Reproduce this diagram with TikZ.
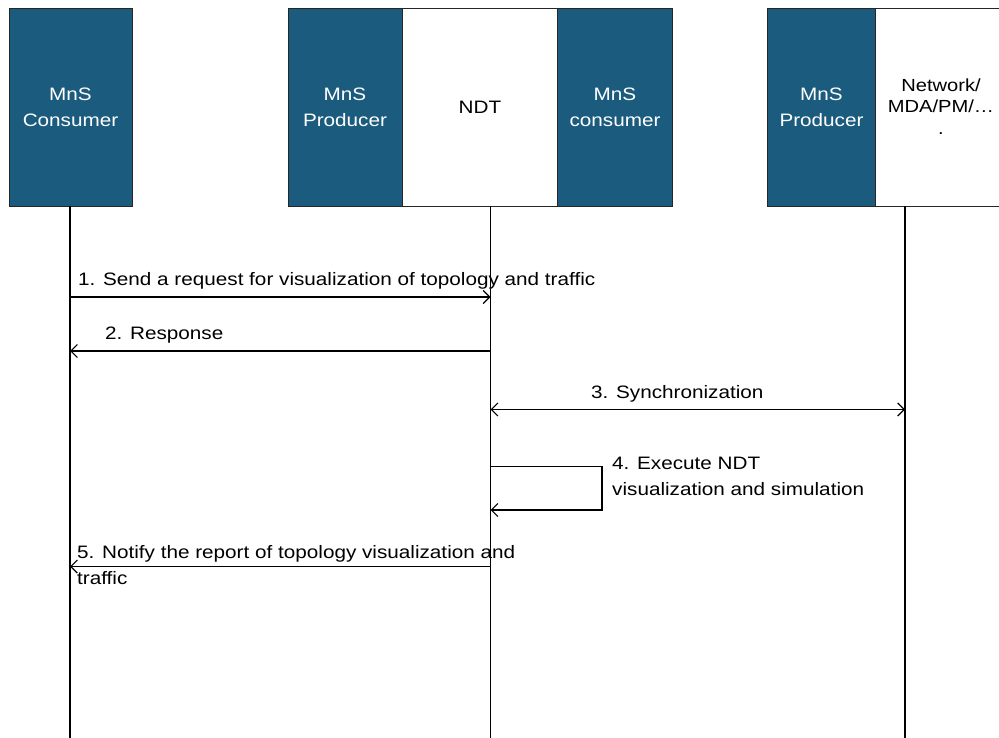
\documentclass[tikz,border=0pt]{standalone}
\usepackage{fontspec}
\setmainfont{Liberation Sans}[FakeStretch=1.15]
\usetikzlibrary{arrows.meta}
\definecolor{mnsblue}{HTML}{1B5C7E}
\begin{document}
\begin{tikzpicture}[x=1pt,y=-1pt,
  box/.style={draw=black!85,line width=1pt,minimum height=198pt,inner sep=0pt,align=center,
    font=\fontsize{18}{25.5}\selectfont},
  darkbox/.style={box,fill=mnsblue,text=white},
  lightbox/.style={box,fill=white,text=black},
  life/.style={line width=1.3pt,black},
  msg/.style={line width=1.2pt,black,-{Straight Barb[length=6.5pt,width=13pt]}},
  lbl/.style={font=\fontsize{18}{26}\selectfont,inner sep=0pt,align=left,anchor=west}]
\useasboundingbox (0,0) rectangle (999,738);
\clip (0,0) rectangle (999,738);
% boxes
\node[darkbox,minimum width=123pt] (cons) at (70.5,107.5) {MnS\\Consumer};
\node[darkbox,minimum width=114pt] (prod1) at (345,107.5) {MnS\\Producer};
\node[lightbox,minimum width=155pt,anchor=west] (ndt) at (402,107.5) {NDT};
\node[darkbox,minimum width=115pt,anchor=west] (cons2) at (557,107.5) {MnS\\consumer};
\node[darkbox,minimum width=108pt,anchor=west] (prod2) at (767,107.5) {MnS\\Producer};
\node[lightbox,minimum width=150pt,anchor=west] (net) at (875,107.5) {};
\node[font=\fontsize{17.5}{21.5}\selectfont,align=center,inner sep=0pt,anchor=north] (nettext) at (941,78.5) {Network/\\MDA/PM/…\\.};
% lifelines
\coordinate (lc) at (70,206.5);
\coordinate (ln) at (490.5,206.5);
\coordinate (lr) at (905,206.5);
\coordinate (lcb) at (70,738);
\coordinate (lnb) at (490.5,738);
\coordinate (lrb) at (905,738);
\draw[life] (lc) -- (lcb);
\draw[life] (ln) -- (lnb);
\draw[life] (lr) -- (lrb);
% message coordinates
\coordinate (c1) at (70,297); \coordinate (n1) at (490.5,297);
\coordinate (c2) at (70,351); \coordinate (n2) at (490.5,351);
\coordinate (n3) at (490.5,409.5); \coordinate (r3) at (905,409.5);
\coordinate (n4a) at (490.5,466.5); \coordinate (k4a) at (602,466.5);
\coordinate (k4b) at (602,510); \coordinate (n4b) at (490.5,510);
\coordinate (c5) at (70,566.5); \coordinate (n5) at (490.5,566.5);
% messages
\draw[msg] (c1) -- (n1);
\draw[msg] (n2) -- (c2);
\draw[msg,{Straight Barb[length=6.5pt,width=13pt]}-{Straight Barb[length=6.5pt,width=13pt]}] (n3) -- (r3);
\draw[msg] (n4a) -- (k4a) -- (k4b) -- (n4b);
\draw[msg] (n5) -- (c5);
% labels
\node[lbl,anchor=base west] (t1) at (78,285) {1. Send a request for visualization of topology and traffic};
\node[lbl,anchor=base west] (t2) at (105,339) {2. Response};
\node[lbl,anchor=base west] (t3) at (591,398.5) {3. Synchronization};
\node[lbl,anchor=north west] (t4) at (612,457) {4. Execute NDT\\visualization and simulation};
\node[lbl,anchor=north west] (t5) at (77,545) {5. Notify the report of topology visualization and\\traffic};
\end{tikzpicture}
\end{document}
